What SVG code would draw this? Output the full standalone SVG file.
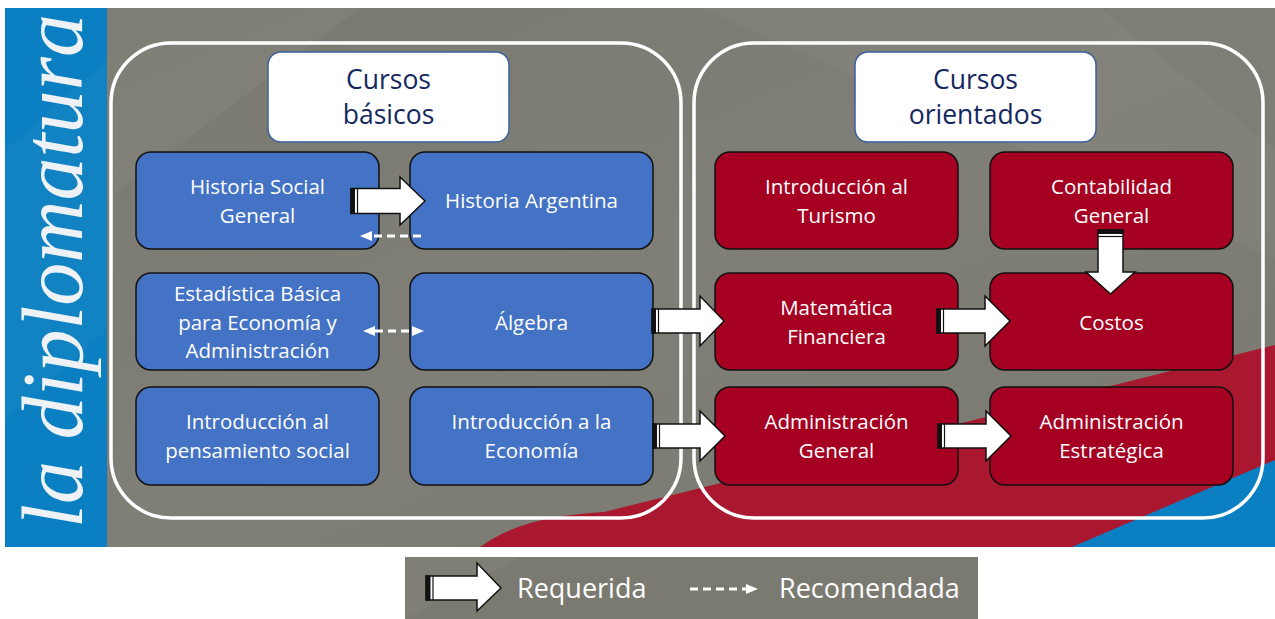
<svg xmlns="http://www.w3.org/2000/svg" width="1275" height="619" viewBox="0 0 1275 619">
<style>
.lbl{font-family:"Open Sans",Lato,"Liberation Sans",sans-serif;font-size:20.5px;fill:#ffffff;text-anchor:middle}
.ttl{font-family:"Open Sans",Lato,"Liberation Sans",sans-serif;font-size:26.5px;fill:#14285e;text-anchor:middle}
.leg{font-family:"Open Sans",Lato,"Liberation Sans",sans-serif;font-size:27px;fill:#ffffff}
.blue{fill:#4472c4;stroke:#111;stroke-width:1.5}
.red{fill:#a50021;stroke:#111;stroke-width:1.5}
.cont{fill:none;stroke:#ffffff;stroke-width:3.5}
.head{fill:#ffffff;stroke:#111;stroke-width:1.5;stroke-linejoin:miter}
.bar{fill:#111}
.stripe{stroke:#111;stroke-width:1.2}
.dash{fill:none;stroke:#ffffff;stroke-width:3;stroke-dasharray:8 5}
</style>
<defs>
<marker id="dh" markerUnits="userSpaceOnUse" markerWidth="12" markerHeight="12" viewBox="0 0 12 12" refX="0" refY="6" orient="auto-start-reverse">
<path d="M0,1 L12,6 L0,11 Z" fill="#ffffff"/>
</marker>
<linearGradient id="bg" x1="0" y1="0" x2="1" y2="1">
<stop offset="0" stop-color="#7a7970"/>
<stop offset="0.5" stop-color="#807f77"/>
<stop offset="1" stop-color="#7a7970"/>
</linearGradient>
</defs>
<rect x="0" y="0" width="1275" height="619" fill="#ffffff"/>
<g id="background">
<rect x="5" y="8" width="1270" height="539" fill="url(#bg)"/>
<polygon points="107,8 360,8 107,200" fill="#ffffff" opacity="0.04"/>
<polygon points="700,8 1100,8 1275,150 1275,260" fill="#ffffff" opacity="0.03"/>
<path d="M480,547 C515,522 555,515 604,512 L1275,345 L1275,547 Z" fill="#aa1830"/>
<polygon points="1072,547 1275,460 1275,547" fill="#0a7fc1"/>
<rect x="5" y="8" width="102" height="539" fill="#0a7fc1"/>
<polygon points="5,150 107,60 107,330 5,420" fill="#ffffff" opacity="0.03"/>
<text transform="translate(82,528) rotate(-90)" font-family="'Liberation Serif',serif" font-style="italic" font-size="86" fill="#eef2f4" textLength="514" lengthAdjust="spacingAndGlyphs">la diplomatura</text>
</g>
<g id="containers">
<rect class="cont" x="111" y="43" width="570" height="475" rx="60" ry="60"/>
<rect class="cont" x="694" y="43" width="569" height="475" rx="60" ry="60"/>
</g>
<g id="title-basicos">
<rect x="268" y="52" width="241" height="90" rx="13" fill="#ffffff" stroke="#3c5f9e" stroke-width="1.5"/>
<text class="ttl" x="388.5" y="89">Cursos</text>
<text class="ttl" x="388.5" y="124">básicos</text>
</g>
<g id="title-orientados">
<rect x="855" y="52" width="241" height="90" rx="13" fill="#ffffff" stroke="#3c5f9e" stroke-width="1.5"/>
<text class="ttl" x="975.5" y="89">Cursos</text>
<text class="ttl" x="975.5" y="124">orientados</text>
</g>
<g id="historia-social">
<rect class="blue" x="136" y="152" width="243" height="97" rx="15"/>
<text class="lbl" x="257.5" y="194">Historia Social</text>
<text class="lbl" x="257.5" y="223">General</text>
</g>
<g id="historia-argentina">
<rect class="blue" x="410" y="152" width="243" height="97" rx="15"/>
<text class="lbl" x="531.5" y="208">Historia Argentina</text>
</g>
<g id="estadistica">
<rect class="blue" x="136" y="273" width="243" height="97" rx="15"/>
<text class="lbl" x="257.5" y="301">Estadística Básica</text>
<text class="lbl" x="257.5" y="330">para Economía y</text>
<text class="lbl" x="257.5" y="358">Administración</text>
</g>
<g id="algebra">
<rect class="blue" x="410" y="273" width="243" height="97" rx="15"/>
<text class="lbl" x="531.5" y="330">Álgebra</text>
</g>
<g id="intro-pensamiento">
<rect class="blue" x="136" y="387" width="243" height="98" rx="15"/>
<text class="lbl" x="257.5" y="429">Introducción al</text>
<text class="lbl" x="257.5" y="458">pensamiento social</text>
</g>
<g id="intro-economia">
<rect class="blue" x="410" y="387" width="243" height="98" rx="15"/>
<text class="lbl" x="531.5" y="429">Introducción a la</text>
<text class="lbl" x="531.5" y="458">Economía</text>
</g>
<g id="intro-turismo">
<rect class="red" x="715" y="152" width="243" height="97" rx="15"/>
<text class="lbl" x="836.5" y="194">Introducción al</text>
<text class="lbl" x="836.5" y="223">Turismo</text>
</g>
<g id="contabilidad">
<rect class="red" x="990" y="152" width="243" height="97" rx="15"/>
<text class="lbl" x="1111.5" y="194">Contabilidad</text>
<text class="lbl" x="1111.5" y="223">General</text>
</g>
<g id="matematica">
<rect class="red" x="715" y="273" width="243" height="97" rx="15"/>
<text class="lbl" x="836.5" y="315">Matemática</text>
<text class="lbl" x="836.5" y="344">Financiera</text>
</g>
<g id="costos">
<rect class="red" x="990" y="273" width="243" height="97" rx="15"/>
<text class="lbl" x="1111.5" y="330">Costos</text>
</g>
<g id="admin-general">
<rect class="red" x="715" y="387" width="243" height="98" rx="15"/>
<text class="lbl" x="836.5" y="429">Administración</text>
<text class="lbl" x="836.5" y="458">General</text>
</g>
<g id="admin-estrategica">
<rect class="red" x="990" y="387" width="243" height="98" rx="15"/>
<text class="lbl" x="1111.5" y="429">Administración</text>
<text class="lbl" x="1111.5" y="458">Estratégica</text>
</g>
<g id="connectors">
<polygon class="head" points="351,188.5 400,188.5 400,177 425,201 400,225 400,213.5 351,213.5"/>
<rect class="bar" x="350.5" y="188" width="4.5" height="26"/>
<line class="stripe" x1="357.5" y1="188.5" x2="357.5" y2="213.5"/>
<polygon class="head" points="652,309 700,309 700,296 724,321 700,346 700,333 652,333"/>
<rect class="bar" x="651.5" y="308.5" width="4.5" height="25"/>
<line class="stripe" x1="658.5" y1="309" x2="658.5" y2="333"/>
<polygon class="head" points="937,309 985,309 985,296 1010,321 985,346 985,333 937,333"/>
<rect class="bar" x="936.5" y="308.5" width="4.5" height="25"/>
<line class="stripe" x1="943.5" y1="309" x2="943.5" y2="333"/>
<polygon class="head" points="653,424 700,424 700,411 725,436 700,461 700,448 653,448"/>
<rect class="bar" x="652.5" y="423.5" width="4.5" height="25"/>
<line class="stripe" x1="659.5" y1="424" x2="659.5" y2="448"/>
<polygon class="head" points="938,424 986,424 986,411 1011,436 986,461 986,448 938,448"/>
<rect class="bar" x="937.5" y="423.5" width="4.5" height="25"/>
<line class="stripe" x1="944.5" y1="424" x2="944.5" y2="448"/>
<polygon class="head" points="1098,230 1123,230 1123,272 1135,272 1110.5,294 1086,272 1098,272"/>
<rect class="bar" x="1097.5" y="229.5" width="26" height="4.5"/>
<line class="stripe" x1="1098" y1="236.5" x2="1123" y2="236.5"/>
<path class="dash" d="M421,236 L372,236" marker-end="url(#dh)"/>
<path class="dash" d="M375,331 L412,331" marker-start="url(#dh)" marker-end="url(#dh)"/>
</g>
<g id="legend">
<rect x="405" y="557" width="573" height="62" fill="#7b7a71"/>
<polygon points="405,557 520,557 405,619" fill="#ffffff" opacity="0.04"/>
<polygon class="head" points="426,576 477,576 477,563 501,588 477,611 477,600 426,600"/>
<rect class="bar" x="425.5" y="575.5" width="5" height="25"/>
<line class="stripe" x1="433" y1="576" x2="433" y2="600"/>
<text class="leg" x="517" y="598">Requerida</text>
<path class="dash" d="M690,589 L746,589" marker-end="url(#dh)"/>
<text class="leg" x="779" y="598">Recomendada</text>
</g>
</svg>
